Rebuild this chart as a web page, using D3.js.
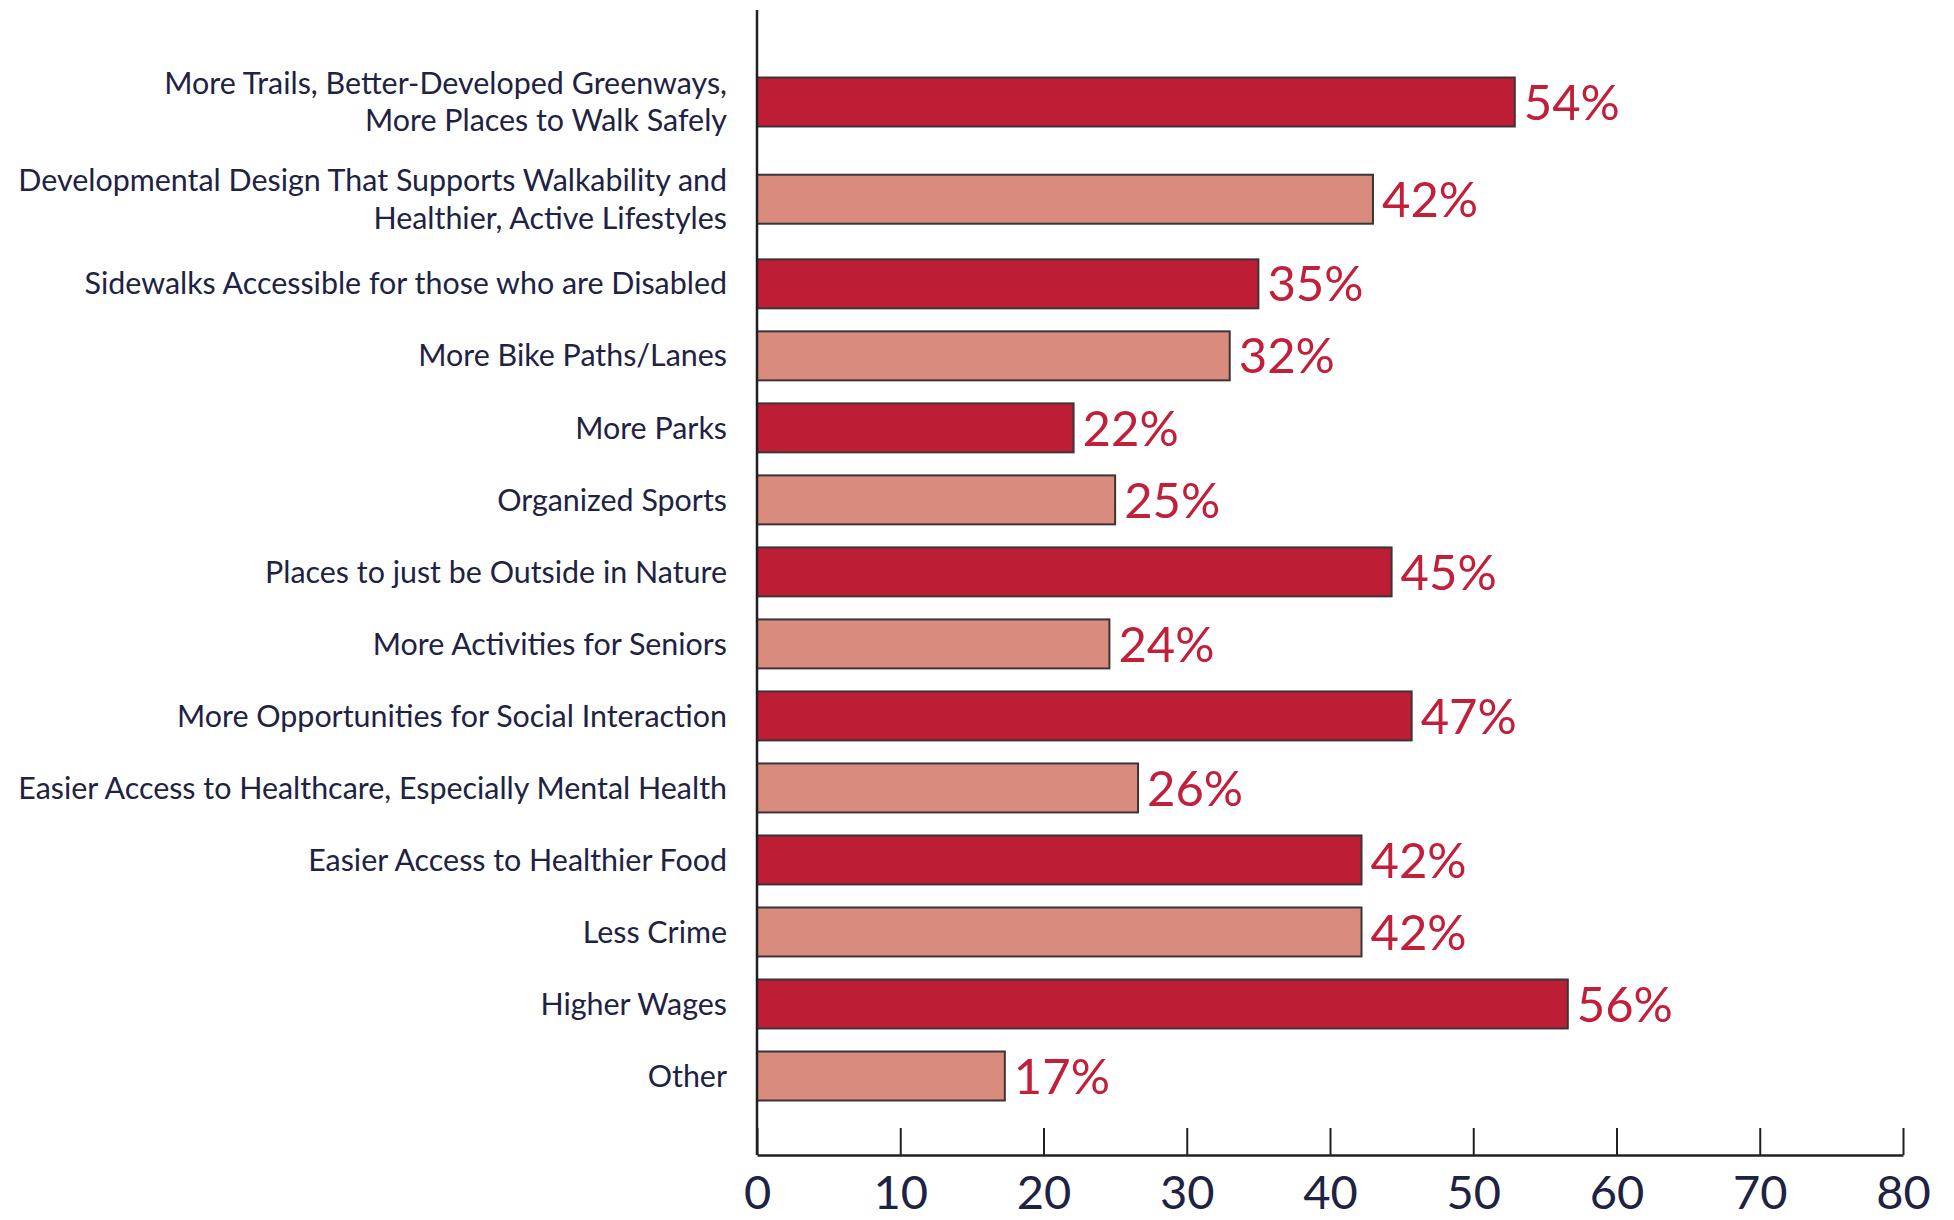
<!DOCTYPE html>
<html>
<head>
<meta charset="utf-8">
<script src="https://cdn.jsdelivr.net/npm/d3@7"></script>
<style>
  html, body { margin: 0; padding: 0; background: #ffffff; }
  svg { display: block; }
</style>
</head>
<body>
<svg id="chart" width="1954" height="1220"></svg>
<script>
// ---- data ----
const categories = [
  "More Trails, Better-Developed Greenways,\nMore Places to Walk Safely",
  "Developmental Design That Supports Walkability and\nHealthier, Active Lifestyles",
  "Sidewalks Accessible for those who are Disabled",
  "More Bike Paths/Lanes",
  "More Parks",
  "Organized Sports",
  "Places to just be Outside in Nature",
  "More Activities for Seniors",
  "More Opportunities for Social Interaction",
  "Easier Access to Healthcare, Especially Mental Health",
  "Easier Access to Healthier Food",
  "Less Crime",
  "Higher Wages",
  "Other"
];
// bar lengths as drawn in the picture
const barValues = [52.9, 43.0, 35.0, 33.0, 22.1, 25.0, 44.3, 24.6, 45.7, 26.6, 42.2, 42.2, 56.6, 17.3];
// printed value labels
const valueLabels = ["54%", "42%", "35%", "32%", "22%", "25%", "45%", "24%", "47%", "26%", "42%", "42%", "56%", "17%"];
const xTicks = [0, 10, 20, 30, 40, 50, 60, 70, 80];

// ---- styles ----
const darkRed = "#BE1E35";
const lightRed = "#D98B7E";
const labelRed = "#C21F3A";
const navy = "#1E2243";
const axisColor = "#231F20";
const fontFamily = "Lato, 'Open Sans', sans-serif";

const svg = d3.select("#chart");

// x scale
const x = d3.scaleLinear().domain([0, 80]).range([757, 1903]);

// y: slot weights (two-line labels take a little more room)
const weights = categories.map(c => c.includes("\n") ? 1.35 : 1);
const centersU = [];
weights.forEach((w, i) => {
  centersU.push(i === 0 ? w / 2 : centersU[i - 1] + (weights[i - 1] + w) / 2);
});
const y = d3.scaleLinear()
  .domain([centersU[0], centersU[centersU.length - 1]])
  .range([102, 1076]);
const unit = y(1) - y(0);
const barH = unit * 0.68;

const baselineY = 1155;

// bars
svg.append("g").selectAll("rect")
  .data(barValues)
  .join("rect")
  .attr("x", x(0))
  .attr("y", (d, i) => y(centersU[i]) - barH / 2)
  .attr("width", d => x(d) - x(0))
  .attr("height", barH)
  .attr("fill", (d, i) => i % 2 === 0 ? darkRed : lightRed)
  .attr("stroke", "#3A3537")
  .attr("stroke-width", 2);

// value labels
svg.append("g").selectAll("text")
  .data(barValues)
  .join("text")
  .attr("x", d => x(d) + 9)
  .attr("y", (d, i) => y(centersU[i]))
  .attr("dy", "0.36em")
  .attr("fill", labelRed)
  .attr("font-family", fontFamily)
  .attr("font-size", 49)
  .text((d, i) => valueLabels[i]);

// category labels
const catG = svg.append("g")
  .attr("font-family", fontFamily)
  .attr("fill", navy)
  .attr("text-anchor", "end");

const catFont = 29;
const lineGap = 37.5;
categories.forEach((c, i) => {
  const lines = c.split("\n");
  const cy = y(centersU[i]);
  const t = catG.append("text")
    .attr("x", 727)
    .attr("y", cy)
    .attr("font-size", catFont);
  lines.forEach((ln, j) => {
    t.append("tspan")
      .attr("x", 727)
      .attr("y", cy + (j - (lines.length - 1) / 2) * lineGap)
      .attr("dy", "0.35em")
      .text(ln);
  });
});

// fit category label width to reference (longest line ≈ 709px)
(function fit() {
  let maxW = 0;
  catG.selectAll("tspan").each(function () {
    maxW = Math.max(maxW, this.getComputedTextLength());
  });
  if (maxW > 0) {
    const fs = catFont * 709 / maxW;
    catG.selectAll("text").attr("font-size", fs);
  }
})();

// x axis
const xAxis = d3.axisBottom(x)
  .tickValues(xTicks)
  .tickSizeInner(-27)
  .tickSizeOuter(0)
  .tickPadding(21)
  .tickFormat(d3.format("d"));

const axG = svg.append("g")
  .attr("transform", `translate(0,${baselineY})`)
  .call(xAxis);
axG.select(".domain").attr("stroke", axisColor).attr("stroke-width", 2.5);
axG.selectAll(".tick line").attr("stroke", axisColor).attr("stroke-width", 2);
axG.selectAll(".tick text")
  .attr("fill", navy)
  .attr("font-family", fontFamily)
  .attr("font-size", 47);

// vertical axis line
svg.append("line")
  .attr("x1", x(0)).attr("x2", x(0))
  .attr("y1", 10).attr("y2", baselineY)
  .attr("stroke", axisColor)
  .attr("stroke-width", 2.5);
</script>
</body>
</html>
